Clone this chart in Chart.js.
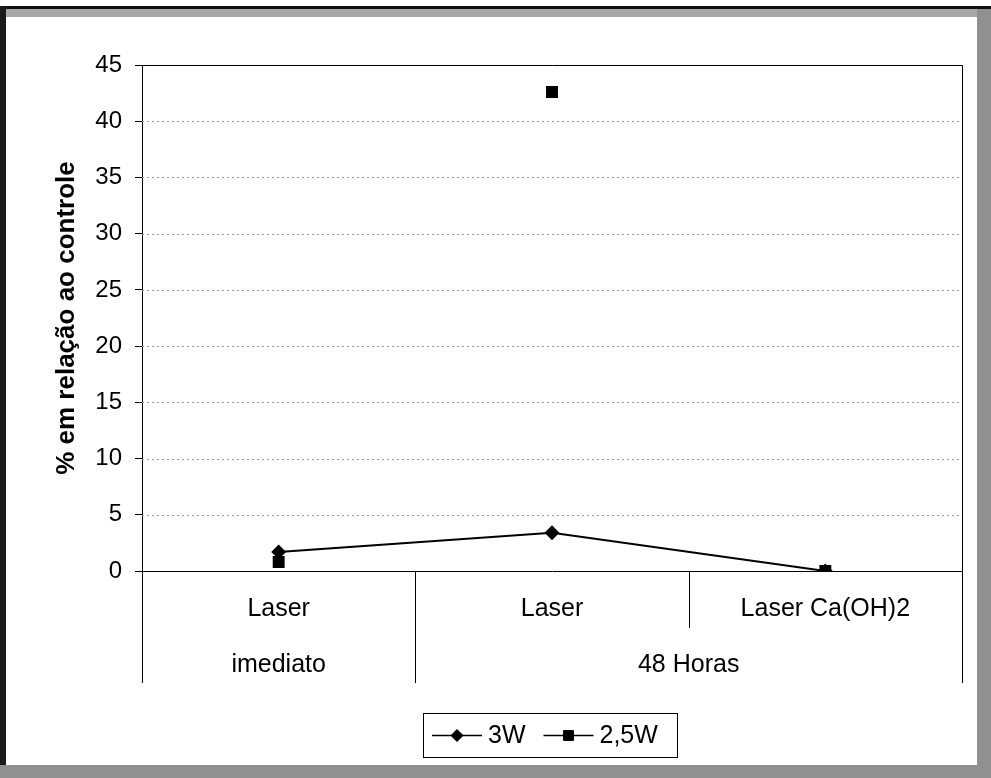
<!DOCTYPE html>
<html>
<head>
<meta charset="utf-8">
<script src="https://cdn.jsdelivr.net/npm/chart.js@4/dist/chart.umd.min.js"></script>
<style>
html,body{margin:0;padding:0;background:#fff;}
#wrap{position:relative;width:991px;height:778px;overflow:hidden;background:#fff;}
.band{position:absolute;}
#c{position:absolute;left:0;top:0;}
</style>
</head>
<body>
<div id="wrap">
  <div class="band" style="left:0;top:6px;width:991px;height:3px;background:#111;"></div>
  <div class="band" style="left:6px;top:9px;width:985px;height:8px;background:#a8a8a8;"></div>
  <div class="band" style="left:0;top:6px;width:6px;height:772px;background:#1a1a1a;"></div>
  <div class="band" style="left:977px;top:9px;width:14px;height:769px;background:#909090;"></div>
  <div class="band" style="left:0;top:765px;width:991px;height:13px;background:#909090;"></div>
  <canvas id="c" width="991" height="778"></canvas>
</div>
<script>
// ---- data ----
const categories = ['Laser', 'Laser', 'Laser Ca(OH)2'];
const groupLabels = ['imediato', '48 Horas'];
const groupSpans = [1, 2];
const seriesNames = ['3W', '2,5W'];
const series3W = [1.7, 3.4, 0];
const series25W = [0.8, 42.6, 0];
const yMin = 0, yMax = 45, yStep = 5;
const yTitle = '% em relação ao controle';

const FONT = "'Liberation Sans', Arial, Helvetica, sans-serif";
const FS = 25;   // category / legend text
const FSY = 24;  // value axis ticks

const excelPlugin = {
  id: 'excelDecor',
  beforeDatasetsDraw(chart) {
    const {ctx, chartArea: a, scales: {y}} = chart;
    ctx.save();
    ctx.strokeStyle = '#9a9a9a';
    ctx.lineWidth = 1;
    ctx.setLineDash([2, 3]);
    y.ticks.forEach(t => {
      if (t.value === yMin || t.value === yMax) return;
      const py = Math.round(y.getPixelForValue(t.value)) + 0.5;
      ctx.beginPath(); ctx.moveTo(a.left, py); ctx.lineTo(a.right, py); ctx.stroke();
    });
    ctx.restore();
  },
  afterDraw(chart) {
    const {ctx, chartArea: a, scales: {x}} = chart;
    ctx.save();
    ctx.strokeStyle = '#000';
    ctx.lineWidth = 1;
    ctx.setLineDash([]);
    // plot border (top & right)
    ctx.beginPath();
    ctx.moveTo(a.left, Math.round(a.top) + 0.5);
    ctx.lineTo(Math.round(a.right) + 0.5, Math.round(a.top) + 0.5);
    ctx.lineTo(Math.round(a.right) + 0.5, a.bottom);
    ctx.stroke();
    // category separators
    const n = categories.length;
    const edge = i => i === 0 ? a.left : (i === n ? a.right : (x.getPixelForValue(i - 1) + x.getPixelForValue(i)) / 2);
    const bounds = [0]; let acc = 0;
    groupSpans.forEach(s => { acc += s; bounds.push(acc); });
    const row1Bottom = a.bottom + 57, row2Bottom = a.bottom + 112;
    for (let i = 0; i <= n; i++) {
      const px = Math.round(edge(i)) + 0.5;
      ctx.beginPath();
      ctx.moveTo(px, a.bottom);
      ctx.lineTo(px, bounds.includes(i) ? row2Bottom : row1Bottom);
      ctx.stroke();
    }
    // group labels
    ctx.fillStyle = '#000';
    ctx.font = FS + 'px ' + FONT;
    ctx.textAlign = 'center';
    ctx.textBaseline = 'middle';
    groupLabels.forEach((g, k) => {
      const cx = (edge(bounds[k]) + edge(bounds[k + 1])) / 2;
      ctx.fillText(g, cx, a.bottom + 94);
    });
    // legend
    const bx = 423.5, by = 713.5, bw = 254, bh = 44;
    ctx.strokeRect(bx, by, bw, bh);
    const cy = by + bh / 2;
    let lx = 432;
    ctx.textAlign = 'left';
    chart.data.datasets.forEach((ds) => {
      const len = 50;
      ctx.strokeStyle = '#000';
      ctx.lineWidth = 1.5;
      ctx.beginPath(); ctx.moveTo(lx, cy); ctx.lineTo(lx + len, cy); ctx.stroke();
      ctx.fillStyle = '#000';
      ctx.lineWidth = 1;
      Chart.helpers.drawPoint(ctx, {pointStyle: ds.pointStyle, radius: ds.pointRadius, borderWidth: 1, rotation: 0}, lx + len / 2, cy);
      ctx.fillText(ds.label, lx + len + 6, cy + 1);
      lx = lx + len + 6 + ctx.measureText(ds.label).width + 18;
    });
    ctx.restore();
  }
};

const chart = new Chart(document.getElementById('c'), {
  type: 'line',
  data: {
    labels: categories,
    datasets: [
      {
        label: seriesNames[0], data: series3W,
        borderColor: '#000', backgroundColor: '#000', borderWidth: 2,
        pointStyle: 'rectRot', pointRadius: 6, pointBackgroundColor: '#000', pointBorderColor: '#000',
        tension: 0, showLine: true
      },
      {
        label: seriesNames[1], data: series25W,
        borderColor: '#000', backgroundColor: '#000', borderWidth: 2,
        pointStyle: 'rect', pointRadius: 7, pointBackgroundColor: '#000', pointBorderColor: '#000',
        tension: 0, showLine: false
      }
    ]
  },
  options: {
    responsive: false,
    animation: false,
    devicePixelRatio: 1,
    layout: {padding: {left: 0, top: 65, right: 29, bottom: 0}},
    plugins: {legend: {display: false}, tooltip: {enabled: false}},
    scales: {
      x: {
        offset: true,
        grid: {display: false, drawTicks: false},
        border: {display: true, color: '#000', width: 1},
        ticks: {color: '#000', font: {family: FONT, size: FS}, padding: 23, maxRotation: 0, autoSkip: false},
        afterFit(s) { s.height = 778 - 571; }
      },
      y: {
        min: yMin, max: yMax,
        grid: {drawOnChartArea: false, drawTicks: true, tickLength: 7, color: '#000'},
        border: {display: true, color: '#000', width: 1},
        ticks: {stepSize: yStep, color: '#000', font: {family: FONT, size: FSY}, padding: 13},
        title: {display: true, text: yTitle, color: '#000', font: {family: FONT, size: 26, weight: 'bold'}, padding: {top: 51, bottom: 0}},
        afterFit(s) { s.width = 142; }
      }
    }
  },
  plugins: [excelPlugin]
});
</script>
</body>
</html>
